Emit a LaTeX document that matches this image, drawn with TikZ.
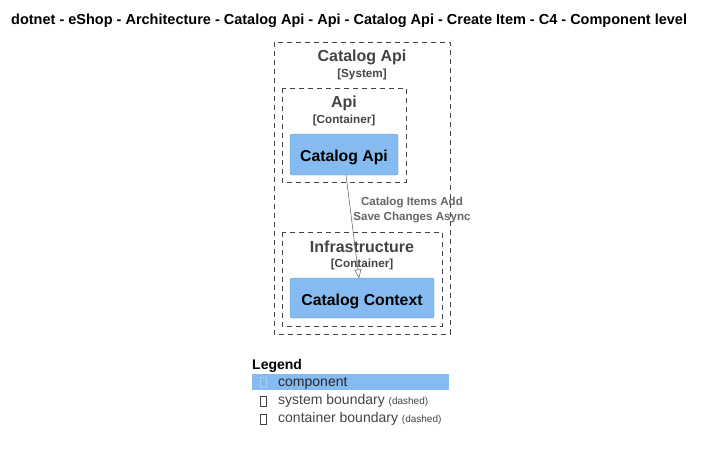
\documentclass[tikz,border=0pt]{standalone}
\usepackage{fontspec}
\setmainfont{Liberation Sans}
\usetikzlibrary{arrows.meta}
\definecolor{compblue}{HTML}{85BBF0}
\definecolor{bordergray}{HTML}{444444}
\definecolor{relgray}{HTML}{707070}
\definecolor{labelgray}{HTML}{666666}
\newcommand{\legsmallfont}{\fontsize{10}{12}\selectfont}
\begin{document}
\begin{tikzpicture}[x=1pt,y=-1pt,
  boundary/.style={draw=bordergray, dashed, dash pattern=on 5pt off 4pt, line width=0.7pt},
  component/.style={fill=compblue, draw=compblue!80!black, line width=0.3pt, rounded corners=2pt},
  btitle/.style={text=bordergray, font=\bfseries\fontsize{16}{18}\selectfont},
  btype/.style={text=bordergray, font=\bfseries\fontsize{11.7}{13}\selectfont},
  ctitle/.style={text=black, font=\bfseries\fontsize{15.8}{18}\selectfont},
  rel/.style={draw=relgray, line width=0.6pt, -{Triangle[open, length=9pt, width=7pt]}},
  rellabel/.style={text=labelgray, font=\bfseries\fontsize{11.6}{14.5}\selectfont, align=center},
  legtext/.style={anchor=west, font=\fontsize{14}{16}\selectfont, inner sep=0pt}
]
\useasboundingbox (0,0) rectangle (708,452);
\fill[white] (0,0) rectangle (708,452);

% heading
\node[font=\bfseries\fontsize{14.5}{16}\selectfont, anchor=west, inner sep=0pt] (title) at (11,21)
  {dotnet - eShop - Architecture - Catalog Api - Api - Catalog Api - Create Item - C4 - Component level};

% system boundary
\draw[boundary] (274,42) rectangle (450,334);
\node[btitle] (systitle) at (362,57) {Catalog Api};
\node[btype] (systype) at (362,74) {[System]};

% Api container
\draw[boundary] (282,88) rectangle (406,182);
\node[btitle] (apititle) at (344,103) {Api};
\node[btype] (apitype) at (344,120) {[Container]};
\draw[component] (290,134) rectangle (398,175);
\node[ctitle] (catalogapi) at (344,157) {Catalog Api};
\coordinate (apiBottom) at (346,175);

% Infrastructure container
\draw[boundary] (282,232) rectangle (442,326);
\node[btitle] (infratitle) at (362,247) {Infrastructure};
\node[btype] (infratype) at (362,264) {[Container]};
\draw[component] (290,278) rectangle (434,318);
\node[ctitle] (catalogcontext) at (362,301) {Catalog Context};
\coordinate (ctxTop) at (359,278.5);

% relationship
\draw[rel] (apiBottom) -- (ctxTop);
\node[rellabel] (rellbl) at (412,210) {Catalog Items Add\\Save Changes Async};

% legend
\node[font=\bfseries\fontsize{14}{16}\selectfont, anchor=west, inner sep=0pt] (legend) at (252,366) {Legend};
\fill[compblue] (252,374) rectangle (449,390);
\draw[compblue!70!white, line width=0.5pt] (260,377) rectangle (266,387);
\node[legtext, text=black!85] (lcomp) at (278,383) {component};
\draw[bordergray, line width=0.5pt] (260,396) rectangle (266,406);
\node[legtext, text=bordergray] (lsys) at (278,401) {system boundary {\legsmallfont(dashed)}};
\draw[bordergray, line width=0.5pt] (260,414) rectangle (266,424);
\node[legtext, text=bordergray] (lcont) at (278,419) {container boundary {\legsmallfont(dashed)}};
\end{tikzpicture}
\end{document}
